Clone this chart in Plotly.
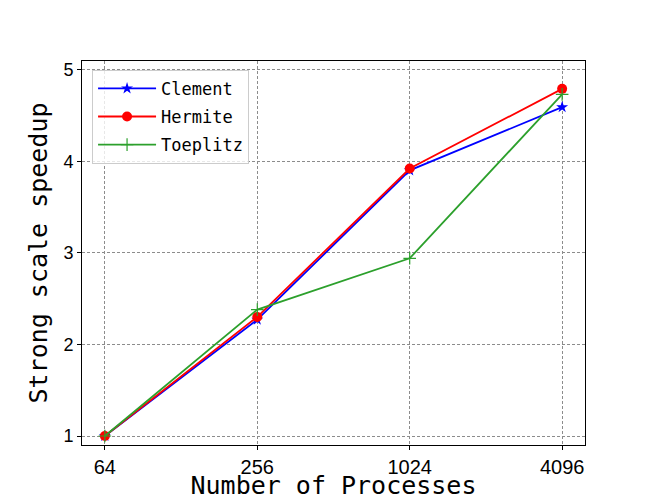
"""Strong scale speedup vs number of processes, three matrix families."""

import plotly.graph_objects as go

PROCS = ["64", "256", "1024", "4096"]
CLEMENT = [1.0, 2.27, 3.90, 4.59]
HERMITE = [1.0, 2.30, 3.92, 4.79]
TOEPLITZ = [1.0, 2.38, 2.94, 4.73]

Y_TICKS = [1, 2, 3, 4, 5]

MONO = "DejaVu Sans Mono"
GRID = dict(showgrid=True, gridcolor="#8c8c8c", griddash="3px,2px", gridwidth=0.6)
FRAME = dict(showline=True, linecolor="black", linewidth=1, mirror=True,
             ticks="outside", ticklen=4, tickcolor="black", automargin=False)

fig = go.Figure()

series = [
    ("Clement", CLEMENT, "#0000ff", dict(symbol="star", size=9)),
    ("Hermite", HERMITE, "#ff0000", dict(symbol="circle", size=10)),
    ("Toeplitz", TOEPLITZ, "#2ca02c",
     dict(symbol="cross-thin", size=9, line=dict(width=1.2, color="#2ca02c"))),
]
for name, ys, color, mk in series:
    fig.add_trace(go.Scatter(
        x=PROCS, y=ys, name=name, legendgroup=name,
        mode="lines+markers",
        line=dict(color=color, width=1.8),
        marker=dict(color=color, **mk),
    ))

fig.update_xaxes(
    type="category",
    range=[-0.15, 3.15],
    **FRAME, **GRID,
    tickfont=dict(family="Liberation Sans Narrow, Liberation Sans", size=20, color="black"),
    title=dict(text="Number of Processes", standoff=0,
               font=dict(family=MONO, size=25, color="black")),
)
fig.update_yaxes(
    range=[0.902, 5.094],
    tickvals=Y_TICKS,
    **FRAME, **GRID,
    zeroline=False,
    tickfont=dict(family="Liberation Sans", size=18, color="black"),
    title=dict(text="Strong scale speedup", standoff=8,
               font=dict(family=MONO, size=25, color="black")),
)

# the page adds an 8px body margin, so the figure is sized 8px short
fig.update_layout(
    width=642, height=492,
    margin=dict(l=74, r=65, t=53, b=55),
    paper_bgcolor="white", plot_bgcolor="white",
    showlegend=True,
    legend=dict(
        x=0.02, y=0.977, xanchor="left", yanchor="top",
        bgcolor="rgba(255,255,255,0.8)", bordercolor="#cccccc", borderwidth=1,
        font=dict(family=MONO, size=17, color="black"),
        itemwidth=58,
        tracegroupgap=3,
    ),
)

fig.write_html("out.html")
